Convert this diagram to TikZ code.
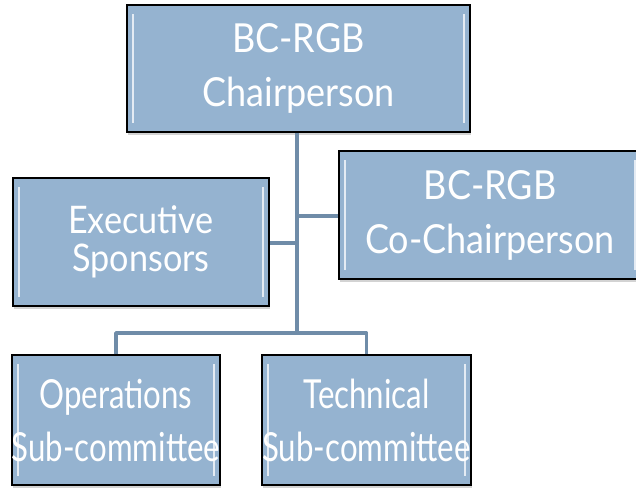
\documentclass[tikz,border=0pt]{standalone}
\usepackage{fontspec}
\setmainfont{Lato}[FakeStretch=0.9]
\newfontfamily\narrowfont{Lato}[FakeStretch=0.78]
\usetikzlibrary{positioning,shadows,calc}
\definecolor{boxfill}{HTML}{95B3D0}
\definecolor{linkcol}{HTML}{6F8CA8}

\tikzset{
  rolebox/.style={draw=black, line width=1.5pt, fill=boxfill, text=white,
    align=center, inner sep=0pt, font=\fontsize{40}{54}\selectfont,
    drop shadow={shadow xshift=1pt, shadow yshift=-3pt, opacity=0.35}},
  subbox/.style={rolebox, font=\narrowfont\fontsize{40}{53}\selectfont},
  link/.style={draw=linkcol, line width=3.5pt},
  bevel/.style={draw=white, line width=2pt, opacity=0.75}
}

% white bevel strips inside a box
\newcommand{\bevelbox}[1]{%
  \draw[bevel] ($(#1.north west)+(7,-10)$) -- ($(#1.south west)+(7,10)$);
  \draw[bevel] ($(#1.north east)+(-7,-10)$) -- ($(#1.south east)+(-7,10)$);
}

\begin{document}
\begin{tikzpicture}[x=1pt, y=1pt]
  \useasboundingbox (0,0) rectangle (636,-487);

  % boxes
  \node[rolebox, minimum width=343, minimum height=127] (chair) at (298.5,-68.5) {BC-RGB\\Chairperson};
  \node[rolebox, minimum width=256, minimum height=128, font=\fontsize{38}{38}\selectfont] (exec) at (141,-242) {Executive\\Sponsors};
  \node[rolebox, minimum width=302, minimum height=128] (cochair) at (490,-215) {BC-RGB\\Co-Chairperson};
  \node[subbox, minimum width=208, minimum height=130] (ops) at (116,-420) {Operations\\Sub-committee};
  \node[subbox, minimum width=209, minimum height=130] (tech) at (366.5,-420) {Technical\\Sub-committee};

  \bevelbox{chair}
  \bevelbox{exec}
  \bevelbox{cochair}
  \bevelbox{ops}
  \bevelbox{tech}

  % junctions
  \coordinate (hub) at (297,-333);
  \coordinate (cojoin) at (297,-216);
  \coordinate (exjoin) at (297,-243);

  % connectors
  \draw[link] (chair.south -| hub) -- (hub);
  \draw[link] (cojoin) -- (cojoin -| cochair.west);
  \draw[link] (exjoin) -- (exjoin -| exec.east);
  \draw[link, line join=round] (ops.north) |- (hub) -| (tech.north);
\end{tikzpicture}
\end{document}
